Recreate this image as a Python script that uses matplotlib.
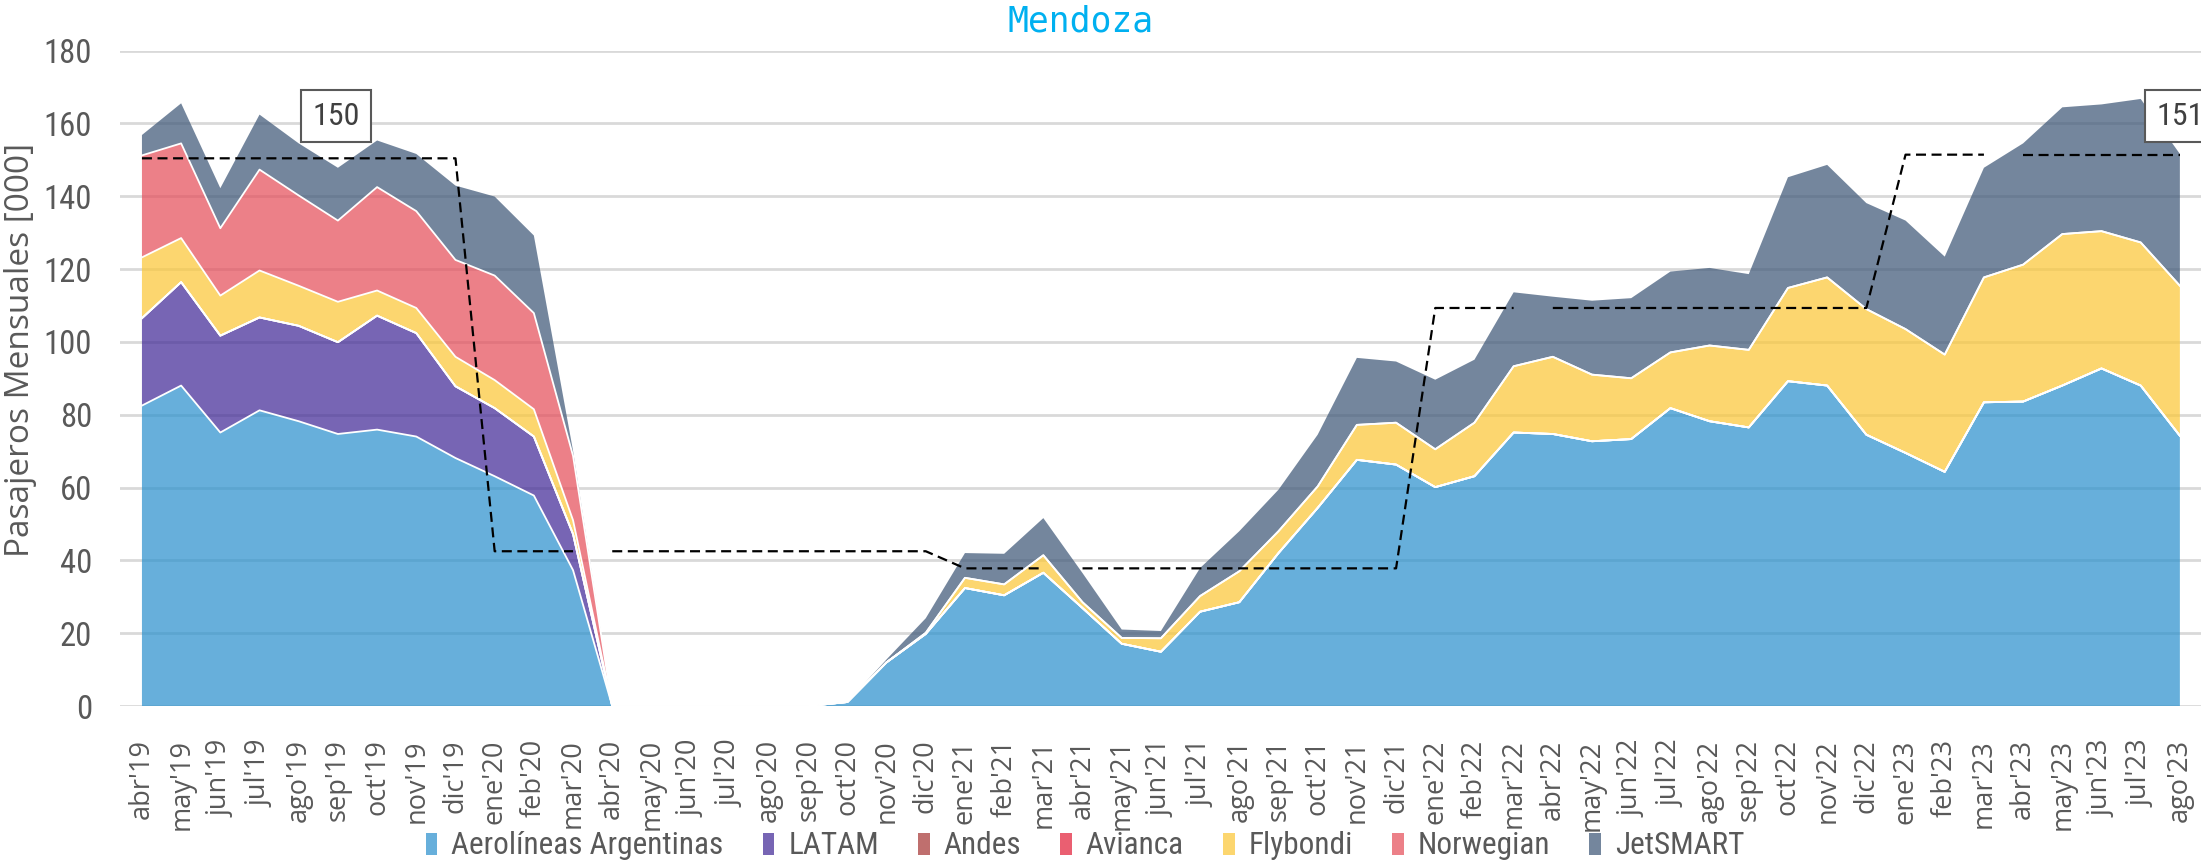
"""
Pasajeros mensuales por aerolinea - Mendoza
"""

import matplotlib
matplotlib.use("Agg")
import matplotlib.pyplot as plt
import matplotlib.font_manager as fm

##########################################################################
## Data
##########################################################################

months = ["abr'19", "may'19", "jun'19", "jul'19", "ago'19", "sep'19", "oct'19",
          "nov'19", "dic'19", "ene'20", "feb'20", "mar'20", "abr'20", "may'20",
          "jun'20", "jul'20", "ago'20", "sep'20", "oct'20", "nov'20", "dic'20",
          "ene'21", "feb'21", "mar'21", "abr'21", "may'21", "jun'21", "jul'21",
          "ago'21", "sep'21", "oct'21", "nov'21", "dic'21", "ene'22", "feb'22",
          "mar'22", "abr'22", "may'22", "jun'22", "jul'22", "ago'22", "sep'22",
          "oct'22", "nov'22", "dic'22", "ene'23", "feb'23", "mar'23", "abr'23",
          "may'23", "jun'23", "jul'23", "ago'23"]

aerolineas = [82.5, 88.0, 75.1, 81.2, 78.2, 74.7, 75.9, 74.0, 68.1, 63.1, 57.8, 37.3,
              0, 0, 0, 0, 0, 0, 1.1, 12.0, 19.8,
              32.4, 30.4, 36.6, 26.9, 17.1, 14.9, 25.9, 28.5, 42.0, 54.4, 67.6, 66.3,
              60.1, 63.1, 75.1, 74.7, 72.7, 73.3, 81.8, 78.2, 76.5, 89.2, 88.0, 74.5,
              69.5, 64.3, 83.4, 83.6, 88.0, 92.7, 88.0, 74.2]

latam = [24.0, 28.4, 26.6, 25.5, 26.2, 25.2, 31.3, 28.4, 19.7, 18.7, 16.2, 9.9] + [0] * 41

andes = [0] * 53

avianca = [0] * 53

flybondi = [16.7, 12.1, 11.0, 12.9, 11.0, 11.1, 6.9, 6.9, 8.1, 7.7, 7.5, 3.8,
            0, 0, 0, 0, 0, 0, 0, 0, 0.3,
            2.8, 3.0, 4.8, 1.6, 1.6, 3.7, 4.3, 8.5, 6.0, 5.9, 9.6, 11.5,
            10.4, 14.7, 18.2, 21.2, 18.3, 16.7, 15.3, 20.8, 21.3, 25.6, 29.7, 34.5,
            34.0, 32.2, 34.3, 37.6, 41.6, 37.7, 39.3, 41.2]

norwegian = [28.0, 26.0, 18.5, 27.7, 24.8, 22.3, 28.4, 26.6, 26.6, 28.7, 26.4, 17.7] + [0] * 41

jetsmart = [5.6, 11.0, 11.0, 15.1, 14.3, 14.5, 12.8, 15.7, 20.4, 21.7, 21.3, 1.4,
            0, 0, 0, 0, 0, 0, 0, 0.8, 4.0,
            6.8, 8.4, 10.2, 8.0, 2.3, 2.0, 7.7, 11.0, 11.4, 14.2, 18.4, 16.8,
            19.1, 17.3, 20.3, 16.5, 20.3, 22.0, 22.2, 21.3, 20.8, 30.4, 30.9, 29.1,
            29.8, 26.9, 30.1, 33.3, 34.8, 34.8, 39.4, 36.2]

carriers = ["Aerolíneas Argentinas", "LATAM", "Andes", "Avianca",
            "Flybondi", "Norwegian", "JetSMART"]
colors = ["#2C91CD", "#422A97", "#A73836", "#E3223B",
          "#FBC738", "#E54F5B", "#3F5878"]

# dashed yearly level (value per calendar year) and its labels
year_levels = {"19": 150.4, "20": 42.5, "21": 37.8, "22": 109.3, "23": 151.4}
level_labels = ["150", "151"]

##########################################################################
## Fonts
##########################################################################

# the original uses a narrow face; take one if the system has it
installed = {f.name for f in fm.fontManager.ttflist}
condensed = {f.name for f in fm.fontManager.ttflist
             if str(f.stretch) in ("condensed", "semi-condensed", "extra-condensed")}
narrow_font = None
for cand in ["Liberation Sans Narrow", "Roboto Condensed", "Open Sans Condensed",
             "Noto Sans Condensed", "DejaVu Sans Condensed", "Arial Narrow"]:
    if cand in installed:
        narrow_font = dict(family=[cand, "DejaVu Sans"])
        break
if narrow_font is None and condensed:
    narrow_font = dict(family=[sorted(condensed)[0], "DejaVu Sans"], stretch="condensed")
if narrow_font is None:
    narrow_font = dict(family=["Roboto", "DejaVu Sans"])
    scale = 0.86
else:
    scale = 1.0

grey = "#595959"

##########################################################################
## Chart
##########################################################################

fig = plt.figure(figsize=(22.01, 8.65), dpi=100)
ax = fig.add_axes([0.05452, 0.1838, 0.9455, 0.7578])

x = list(range(len(months)))
series = [aerolineas, latam, andes, avianca, flybondi, norwegian, jetsmart]

polys = ax.stackplot(x, *series, colors=colors, alpha=0.72,
                     labels=carriers, linewidth=0, zorder=2)

# white borders between the stacked layers
cum = [0.0] * len(x)
for vals in series[:-1]:
    cum = [c + v for c, v in zip(cum, vals)]
    ax.plot(x, cum, color="white", lw=1.3, zorder=3)

# dashed yearly levels, drawn in april-to-march pieces
level = [year_levels[m[-2:]] for m in months]
starts = [i for i, m in enumerate(months) if m.startswith("abr")]
for k, s in enumerate(starts):
    e = starts[k + 1] if k + 1 < len(starts) else len(x)
    ax.plot(x[s:e], level[s:e], color="black", lw=1.6,
            dashes=(4.5, 2.5), zorder=4)

box = dict(boxstyle="square,pad=0.35", fc="white", ec=grey, lw=1.5)
ax.text(4.95, 162, level_labels[0], ha="center", va="center",
        size=23 * scale, color="#404040", bbox=box, zorder=5, **narrow_font)
ax.text(52.0, 162, level_labels[1], ha="center", va="center",
        size=23 * scale, color="#404040", bbox=box, zorder=5, clip_on=False,
        **narrow_font)

# axes styling
ax.set_xlim(-0.56, 52.54)
ax.set_ylim(0, 180)
ax.set_yticks(range(0, 181, 20))
ax.set_xticks(x)
ax.set_xticklabels(months, rotation=90, family="Open Sans", size=19.5, color=grey)
for lab in ax.get_yticklabels():
    lab.set_fontproperties(fm.FontProperties(size=23.5 * scale, **narrow_font))
    lab.set_color(grey)
ax.tick_params(axis="both", length=0)
ax.tick_params(axis="y", pad=20)
ax.tick_params(axis="x", pad=24)
ax.grid(axis="y", color="#D9D9D9", lw=2, zorder=0)
ax.set_axisbelow(True)
for sp in ax.spines.values():
    sp.set_visible(False)

fig.text(21 / 2201, 1 - 350 / 865, "Pasajeros Mensuales [000]", rotation=90,
         ha="center", va="center", family="Open Sans", size=24, color=grey)
fig.text(1081 / 2201, 1 - 22 / 865, "Mendoza", ha="center", va="center",
         family="DejaVu Sans Mono", size=25, color="#00B0F0")

leg = fig.legend(handles=polys, labels=carriers, loc="center",
                 bbox_to_anchor=(1085 / 2201, 1 - 846 / 865), ncol=7,
                 frameon=False,
                 prop=fm.FontProperties(size=22.5 * scale, **narrow_font),
                 handlelength=0.37, handleheight=0.7, handletextpad=0.45,
                 columnspacing=1.25, borderpad=0, borderaxespad=0)
for t in leg.get_texts():
    t.set_color(grey)

fig.savefig("out.png", dpi=100)
